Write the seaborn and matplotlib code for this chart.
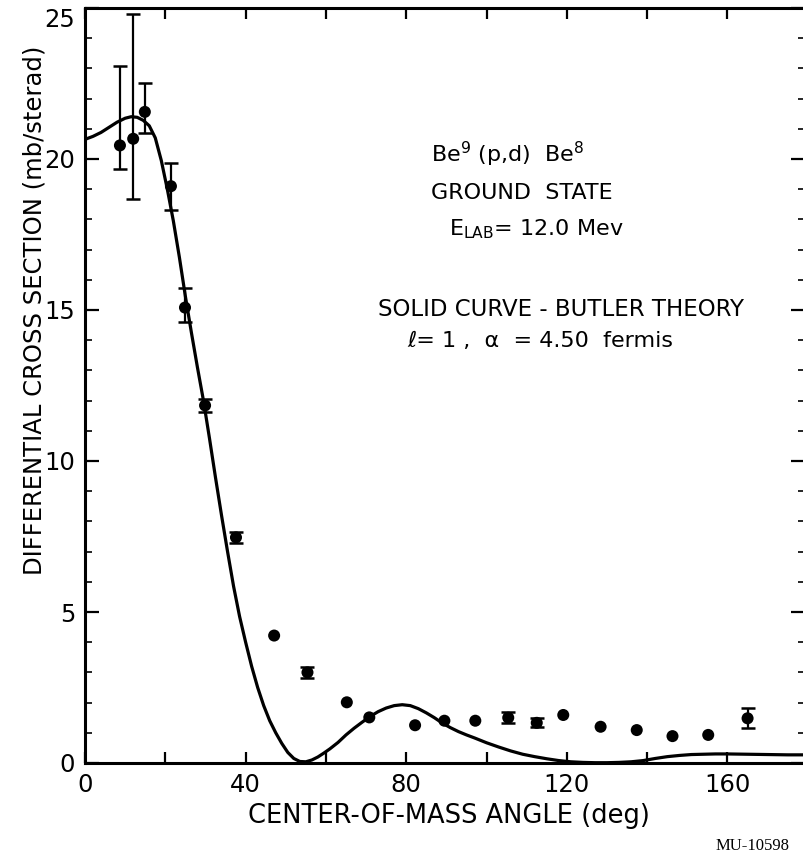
import numpy as np
import pandas as pd
import matplotlib
matplotlib.use("Agg")
import matplotlib.pyplot as plt
import seaborn as sns
from matplotlib.ticker import MultipleLocator, NullLocator

# Measured Be9(p,d)Be8 ground-state cross sections (mb/sterad) vs c.m. angle (deg)
angle = [8.7, 12.0, 14.9, 21.4, 24.9, 29.9, 37.6, 47.1, 55.4, 65.2, 70.8,
         82.2, 89.5, 97.2, 105.4, 112.5, 119.1, 128.4, 137.4, 146.3, 155.2, 165.0]
sigma = [20.45, 20.67, 21.56, 19.10, 15.08, 11.84, 7.47, 4.22, 3.00, 2.01, 1.51,
         1.25, 1.40, 1.40, 1.50, 1.33, 1.59, 1.20, 1.09, 0.89, 0.93, 1.48]
# Error bar limits (None where no bar is shown)
err_low = [19.68, 18.66, 20.87, 18.30, 14.60, 11.62, 7.30, None, 2.83, None, None,
           None, None, None, 1.32, 1.18, None, None, None, None, None, 1.15]
err_high = [23.09, 24.80, 22.50, 19.86, 15.72, 12.06, 7.65, None, 3.17, None, None,
            None, None, None, 1.68, 1.48, None, None, None, None, None, 1.81]

# Butler theory curve, l = 1, alpha = 4.50 fermis
theory_angle = [0, 2, 4, 6, 8, 10, 11.5, 13, 14.5, 16, 17.5, 19, 20.5, 22, 23.5, 25,
                26.5, 28, 29.5, 31, 32.5, 34, 35.5, 37, 38.5, 40,
                41.5, 43, 44.5, 46, 47.5, 49, 50.5, 52, 53.5, 55,
                56.5, 58, 59.5, 61,
                63, 65, 67, 69, 71, 73, 75, 77, 79, 81,
                83, 85, 87, 89, 91, 93, 95, 97,
                100, 103, 106, 109, 112, 115, 118, 121, 124, 127,
                130, 133, 136, 139, 142, 145, 148, 151, 154, 157,
                160, 165, 170, 175, 180]
theory_sigma = [20.65, 20.75, 20.88, 21.05, 21.22, 21.35, 21.40, 21.38, 21.28, 21.10,
                20.70, 19.95, 19.0, 17.95, 16.75, 15.45,
                14.25, 13.1, 12.0, 10.75, 9.45, 8.2, 7.0, 5.85, 4.85, 4.0,
                3.2, 2.5, 1.9, 1.4, 1.0, 0.65, 0.35, 0.15, 0.05, 0.04,
                0.1, 0.2, 0.33, 0.47,
                0.68, 0.93, 1.15, 1.35, 1.54, 1.7, 1.82, 1.9, 1.93, 1.9,
                1.8, 1.66, 1.5, 1.32, 1.17, 1.04, 0.93, 0.83,
                0.67, 0.53, 0.40, 0.29, 0.21, 0.14, 0.08, 0.04, 0.02, 0.01,
                0.01, 0.02, 0.04, 0.08, 0.15, 0.21, 0.25, 0.28, 0.29, 0.30,
                0.30, 0.29, 0.28, 0.27, 0.27]

x_ticks = [0, 20, 40, 60, 80, 100, 120, 140, 160]
x_tick_labels = ["0", "", "40", "", "80", "", "120", "", "160"]
y_ticks = [0, 5, 10, 15, 20, 25]
y_tick_labels = ["0", "5", "10", "15", "20", "25"]

sns.set_theme(style="ticks")
plt.rcParams["font.family"] = ["DejaVu Sans"]
plt.rcParams["axes.linewidth"] = 2.2

W, H = 804, 859
fig = plt.figure(figsize=(W / 100, H / 100), dpi=100)
fig.patch.set_facecolor("white")
ax = fig.add_axes([85 / W, 96 / H, 720 / W, 755 / H])
ax.set_facecolor("white")

data = pd.DataFrame({"angle": angle, "sigma": sigma,
                     "lo": pd.array(err_low, dtype="Float64"),
                     "hi": pd.array(err_high, dtype="Float64")})

sns.lineplot(x=theory_angle, y=theory_sigma, color="black", lw=2.3,
             sort=False, estimator=None, ax=ax, zorder=2)

bars = data.dropna(subset=["lo", "hi"])
ax.errorbar(bars["angle"], bars["sigma"],
            yerr=[(bars["sigma"] - bars["lo"]).astype(float),
                  (bars["hi"] - bars["sigma"]).astype(float)],
            fmt="none", ecolor="black", elinewidth=1.6, capsize=5, capthick=1.8,
            zorder=3)

sns.scatterplot(data=data, x="angle", y="sigma", s=75, color="black",
                edgecolor="none", ax=ax, zorder=4, legend=False)

ax.set_xlim(0, 179.3)
ax.set_ylim(0, 25)
ax.set_xlabel("")
ax.set_ylabel("")

ax.set_xticks(x_ticks, labels=x_tick_labels)
ax.xaxis.set_minor_locator(NullLocator())
ax.set_yticks(y_ticks, labels=y_tick_labels)
ax.yaxis.set_minor_locator(MultipleLocator(1))

ax.tick_params(axis="x", which="major", direction="in", length=8, width=1.6,
               top=True, bottom=True, labelsize=17.5, pad=7, colors="black")
ax.tick_params(axis="y", which="major", direction="in", length=10, width=1.6,
               left=True, right=True, labelsize=17.5, pad=7, colors="black")
ax.tick_params(axis="y", which="minor", direction="in", length=5, width=1.4,
               left=True, right=True)

for lab in ax.get_yticklabels():
    if lab.get_text() == "25":
        lab.set_va("top")

for side in ["left", "right", "top", "bottom"]:
    ax.spines[side].set_visible(True)
    ax.spines[side].set_color("black")
    ax.spines[side].set_linewidth(2.2)

# Reaction and theory annotations
ann = dict(fontsize=16, ha="center", va="center", color="black")
ax.text(105.3, 20.15, r"Be$^{\mathregular{9}}$ (p,d)  Be$^{\mathregular{8}}$", **ann)
ax.text(108.8, 18.88, "GROUND  STATE", **ann)
ax.text(112.4, 17.68, r"E$_{\mathregular{LAB}}$= 12.0 Mev", **ann)
ax.text(118.5, 15.03, "SOLID CURVE - BUTLER THEORY", fontsize=16.5,
        ha="center", va="center", color="black")
ax.text(113.5, 13.96, "ℓ= 1 ,  α  = 4.50  fermis", **ann)

fig.text(449 / W, 1 - 823 / H, "CENTER-OF-MASS ANGLE (deg)", fontsize=18.5,
         ha="center", va="baseline", color="black")
fig.text(42 / W, 1 - 310 / H, "DIFFERENTIAL CROSS SECTION (mb/sterad)",
         fontsize=17.5, rotation=90, rotation_mode="anchor",
         ha="center", va="baseline", color="black")
fig.text(753 / W, 1 - 846 / H, "MU-10598", fontsize=12,
         family=["Liberation Serif", "DejaVu Serif"],
         ha="center", va="center", color="black")

fig.savefig("out.png", dpi=100, facecolor="white")
